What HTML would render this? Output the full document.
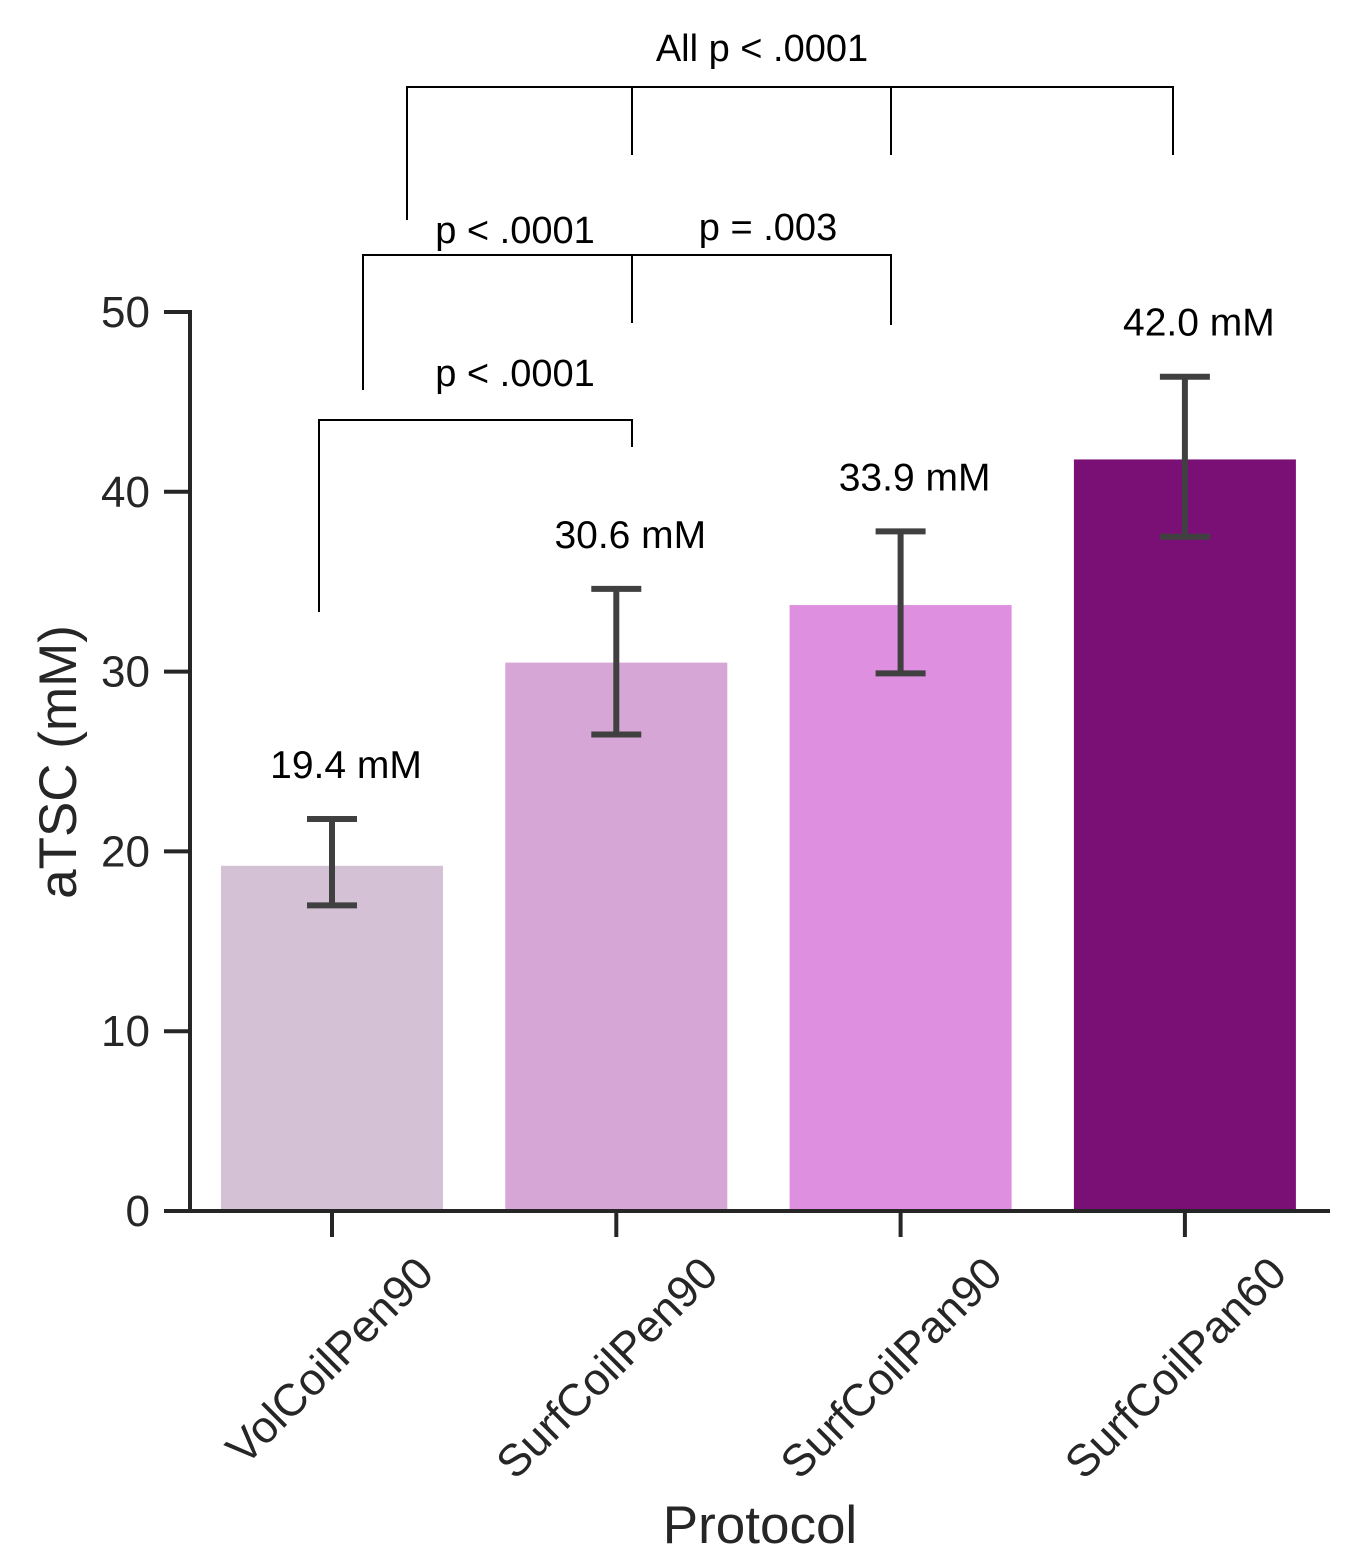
<!DOCTYPE html>
<html><head><meta charset="utf-8"><style>
html,body{margin:0;padding:0;background:#fff;}
svg{display:block;font-family:"Liberation Sans",sans-serif;}
</style></head><body>
<svg id="chart" width="1368" height="1565" viewBox="0 0 1368 1565"></svg>
<script>
const categories = ["VolCoilPen90","SurfCoilPen90","SurfCoilPan90","SurfCoilPan60"];
const means = [19.2, 30.5, 33.7, 41.8];
const errLow = [17.0, 26.5, 29.9, 37.5];
const errHigh = [21.8, 34.6, 37.8, 46.4];
const valueLabels = ["19.4 mM","30.6 mM","33.9 mM","42.0 mM"];
const yTicks = [0,10,20,30,40,50];
const colors = ["#d5c1d6","#d6a6d6","#de8fe0","#7a1076"];

const NS = "http://www.w3.org/2000/svg";
const svg = document.getElementById("chart");
const y0 = 1211, pxPerUnit = (1211-312)/50;
const yS = v => y0 - v*pxPerUnit;
const xC = i => 332 + i*284.3;
function mk(tag, attrs, parent){const e=document.createElementNS(NS,tag);for(const k in attrs)e.setAttribute(k,attrs[k]);(parent||svg).appendChild(e);return e;}

categories.forEach((c,i)=>{
  const r = mk("rect",{x:xC(i)-111,y:yS(means[i]),width:222,height:y0-yS(means[i]),fill:colors[i]});
  
  
});
categories.forEach((c,i)=>{
  const g = mk("g",{stroke:"#404040","stroke-width":6});
  
  
  mk("line",{x1:xC(i),x2:xC(i),y1:yS(errLow[i]),y2:yS(errHigh[i])},g);
  mk("line",{x1:xC(i)-25,x2:xC(i)+25,y1:yS(errLow[i]),y2:yS(errLow[i])},g);
  mk("line",{x1:xC(i)-25,x2:xC(i)+25,y1:yS(errHigh[i]),y2:yS(errHigh[i])},g);
  const t = mk("text",{x:xC(i)+14,y:yS(errHigh[i])-41,"text-anchor":"middle","font-size":39,fill:"#000"});
  t.textContent = valueLabels[i];
  
  
});
const ax = mk("g",{stroke:"#262626","stroke-width":4});


mk("line",{x1:190,x2:190,y1:310,y2:1213},ax);
mk("line",{x1:188,x2:1330,y1:1211,y2:1211},ax);
yTicks.forEach(v=>{
  mk("line",{x1:164,x2:190,y1:yS(v),y2:yS(v)},ax);
  const t = mk("text",{x:150,y:yS(v)+15,"text-anchor":"end","font-size":44,fill:"#262626"});
  t.textContent = v;
  
  
});
categories.forEach((c,i)=>{
  mk("line",{x1:xC(i),x2:xC(i),y1:1211,y2:1237},ax);
  const x=xC(i)+104, y=1276;
  const t = mk("text",{x:x,y:y,"text-anchor":"end","font-size":45,fill:"#262626",transform:`rotate(-45 ${x} ${y})`});
  t.textContent = c;
  
  
});
const yt = mk("text",{x:76,y:762,"text-anchor":"middle","font-size":53,fill:"#262626",transform:"rotate(-90 76 762)"});
yt.textContent="aTSC (mM)";


const xt = mk("text",{x:760,y:1543,"text-anchor":"middle","font-size":53,fill:"#262626"});
xt.textContent="Protocol";



const br = mk("g",{stroke:"#000","stroke-width":2,fill:"none"});


mk("polyline",{points:"319,612 319,420 632,420 632,447"},br);
mk("polyline",{points:"363,390 363,255 891,255 891,325"},br);
mk("line",{x1:632,x2:632,y1:255,y2:323},br);
mk("polyline",{points:"407,220 407,87 1173,87 1173,155"},br);
mk("line",{x1:632,x2:632,y1:87,y2:155},br);
mk("line",{x1:891,x2:891,y1:87,y2:155},br);
[["p < .0001",515,386],["p < .0001",515,243],["p = .003",768,240],["All p < .0001",762,61]].forEach(a=>{
  const t = mk("text",{x:a[1],y:a[2],"text-anchor":"middle","font-size":38,fill:"#000"});
  t.textContent=a[0];
  
  
});
</script>
</body></html>
